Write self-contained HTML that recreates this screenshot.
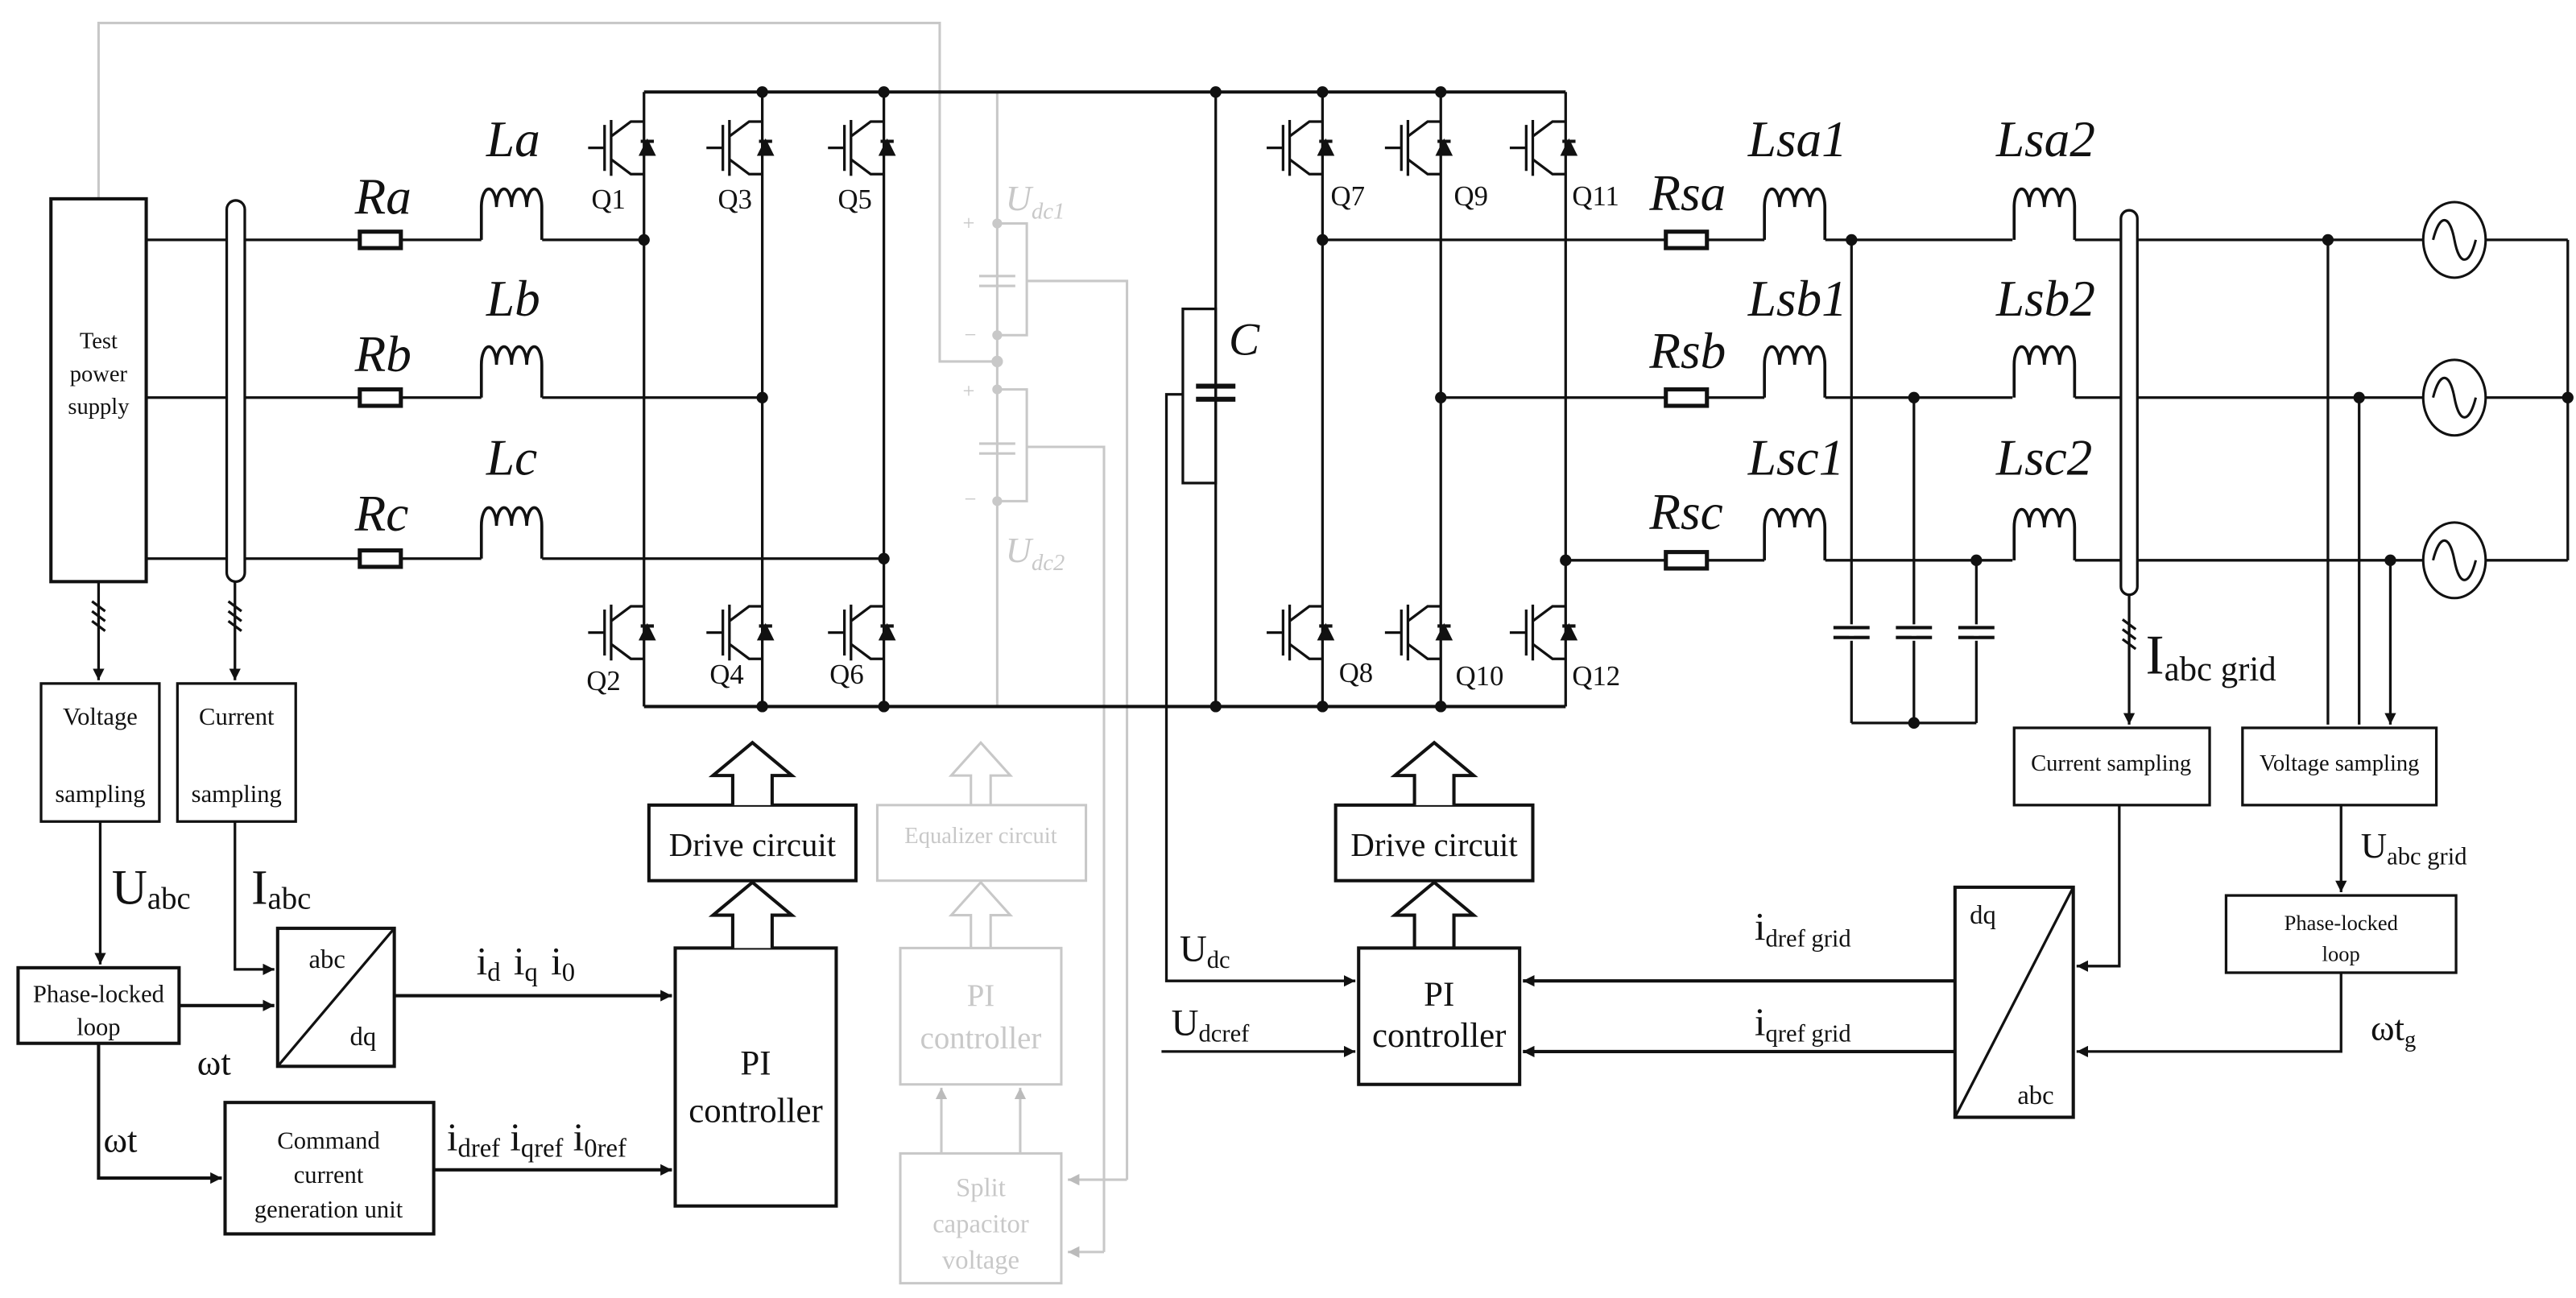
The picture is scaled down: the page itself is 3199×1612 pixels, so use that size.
<!DOCTYPE html>
<html><head><meta charset="utf-8"><style>
html,body{margin:0;padding:0;background:#fff}
svg{display:block}
svg text, svg tspan{font-family:"Liberation Serif","DejaVu Serif",serif !important}
text{fill:#111}
.it{font-style:italic}
.g text,text.g{fill:#c8c8c8}
</style></head><body>
<svg width="3199" height="1612" viewBox="0 0 1568 790" preserveAspectRatio="none" xmlns="http://www.w3.org/2000/svg" font-family="'Liberation Serif', 'DejaVu Serif', serif">
<defs>
<marker id="ar" viewBox="0 0 10 10" refX="10" refY="5" markerWidth="7" markerHeight="7" markerUnits="userSpaceOnUse" orient="auto"><path d="M0,0 L10,5 L0,10 Z" fill="#111"/></marker>
<marker id="arg" viewBox="0 0 10 10" refX="10" refY="5" markerWidth="7" markerHeight="7" markerUnits="userSpaceOnUse" orient="auto"><path d="M0,0 L10,5 L0,10 Z" fill="#bbb"/></marker>
<g id="igbt" fill="none" stroke="#111" stroke-width="1.6">
<path d="M-34,0 H-24 M-24,-14 V14 M-20,-17 V17 M-20,-7 L-8,-16 H0 M-20,7 L-8,16 H0"/>
<path d="M-2,-4 H6" stroke-width="2"/>
<path d="M2,-4 L-2,4 H6 Z" fill="#111"/>
</g>
<g id="ind" fill="none" stroke="#111" stroke-width="1.8">
<path d="M0,0 V-20 a4.6,11 0 1 1 9.2,0 a4.6,11 0 1 1 9.2,0 a4.6,11 0 1 1 9.2,0 a4.6,11 0 1 1 9.2,0 V0"/>
</g>
<g id="res"><rect x="0" y="-5" width="25" height="10" fill="#fff" stroke="#111" stroke-width="2.5"/></g>
<g id="src"><ellipse cx="0" cy="0" rx="19" ry="23" fill="#fff" stroke="#111" stroke-width="1.5"/><path d="M-13,0 C-9,-16 -3,-16 0,0 S9,16 13,0" fill="none" stroke="#111" stroke-width="1.5"/></g>
</defs>

<!-- gray split-capacitor stuff -->
<g stroke="#c8c8c8" stroke-width="1.5" fill="none">
<path d="M60,121 V14 H572 V220 H608"/>
<path d="M607,56 V430"/>
<path d="M607,136 H625 V204 H607 M607,237 H625 V305 H607"/>
<path d="M596,168 H618 M596,174 H618 M596,270 H618 M596,276 H618"/>
<path d="M625,171 H686 V718" />
<path d="M625,272 H672 V762"/>
<path d="M686,718 H650" marker-end="url(#arg)"/>
<path d="M672,762 H650" marker-end="url(#arg)"/>
<rect x="534" y="490" width="127" height="46"/>
<rect x="548" y="577" width="98" height="83"/>
<rect x="548" y="702" width="98" height="79"/>
<path d="M573,702 V662" marker-end="url(#arg)"/>
<path d="M621,702 V662" marker-end="url(#arg)"/>
<path d="M591,490 V472 H579 L597,452 L615,472 H603 V490"/>
<path d="M591,577 V557 H579 L597,537 L615,557 H603 V577"/>
</g>
<g fill="#c8c8c8"><circle cx="607" cy="136" r="3"/><circle cx="607" cy="204" r="3"/><circle cx="607" cy="220" r="3.5"/><circle cx="607" cy="237" r="3"/><circle cx="607" cy="305" r="3"/></g>
<g class="g">
<text x="612" y="128" font-size="22" class="it">U<tspan font-size="14" dy="5">dc1</tspan></text>
<text x="612" y="342" font-size="22" class="it">U<tspan font-size="14" dy="5">dc2</tspan></text>
<text x="586" y="140" font-size="13">+</text><text x="587" y="208" font-size="13">−</text>
<text x="586" y="242" font-size="13">+</text><text x="587" y="308" font-size="13">−</text>
<text x="597" y="513" font-size="14" text-anchor="middle">Equalizer circuit</text>
<text x="597" y="612" font-size="19" text-anchor="middle">PI</text>
<text x="597" y="638" font-size="19" text-anchor="middle">controller</text>
<text x="597" y="728" font-size="16" text-anchor="middle">Split</text>
<text x="597" y="750" font-size="16" text-anchor="middle">capacitor</text>
<text x="597" y="772" font-size="16" text-anchor="middle">voltage</text>
</g>

<!-- power circuit -->
<g stroke="#111" stroke-width="1.6" fill="none">
<rect x="31" y="121" width="58" height="233" stroke-width="2"/>
<rect x="138" y="122" width="11" height="232" rx="5.5" fill="#fff"/>
<path d="M89,146 H138 M149,146 H293 M330,146 H392"/>
<path d="M89,242 H138 M149,242 H293 M330,242 H464"/>
<path d="M89,340 H138 M149,340 H293 M330,340 H538"/>
<path d="M392,56 H953 M392,430 H953" stroke-width="2"/>
<path d="M392,56 V430 M464,56 V430 M538,56 V430"/>
<path d="M740,56 V430"/>
<rect x="720" y="188" width="20" height="106"/>
<path d="M728,235 H752 M728,243 H752" stroke-width="3"/>
<path d="M720,240 H710 V597 H825" marker-end="url(#ar)"/>
<path d="M707,640 H825" marker-end="url(#ar)"/>
<path d="M805,56 V430 M877,56 V430 M953,56 V430"/>
<path d="M805,146 H1014 M1039,146 H1074 M1111,146 H1225 M1263,146 H1475 M1513,146 H1563"/>
<path d="M877,242 H1014 M1039,242 H1074 M1111,242 H1225 M1263,242 H1475 M1513,242 H1563"/>
<path d="M953,341 H1014 M1039,341 H1074 M1111,341 H1225 M1263,341 H1475 M1513,341 H1563"/>
<path d="M1563,146 V341"/>
<path d="M1127,146 V440 M1165,242 V440 M1203,341 V440 M1127,440 H1203"/>
<path d="M1116,382 H1138 M1116,388 H1138 M1154,382 H1176 M1154,388 H1176 M1192,382 H1214 M1192,388 H1214" stroke="#fff" stroke-width="4"/>
<path d="M1116,382 H1138 M1116,388 H1138 M1154,382 H1176 M1154,388 H1176 M1192,382 H1214 M1192,388 H1214" stroke-width="2"/>
<rect x="1291" y="128" width="10" height="234" rx="5" fill="#fff"/>
</g>
<g stroke="#fff" stroke-width="3"><path d="M1127,383 V387 M1165,383 V387 M1203,383 V387"/></g>

<use href="#igbt" x="392" y="90"/><use href="#igbt" x="464" y="90"/><use href="#igbt" x="538" y="90"/>
<use href="#igbt" x="392" y="385"/><use href="#igbt" x="464" y="385"/><use href="#igbt" x="538" y="385"/>
<use href="#igbt" x="805" y="90"/><use href="#igbt" x="877" y="90"/><use href="#igbt" x="953" y="90"/>
<use href="#igbt" x="805" y="385"/><use href="#igbt" x="877" y="385"/><use href="#igbt" x="953" y="385"/>
<use href="#res" x="219" y="146"/><use href="#res" x="219" y="242"/><use href="#res" x="219" y="340"/>
<use href="#ind" x="293" y="146"/><use href="#ind" x="293" y="242"/><use href="#ind" x="293" y="340"/>
<use href="#res" x="1014" y="146"/><use href="#res" x="1014" y="242"/><use href="#res" x="1014" y="341"/>
<use href="#ind" x="1074" y="146"/><use href="#ind" x="1074" y="242"/><use href="#ind" x="1074" y="341"/>
<use href="#ind" x="1226" y="146"/><use href="#ind" x="1226" y="242"/><use href="#ind" x="1226" y="341"/>
<use href="#src" x="1494" y="146"/><use href="#src" x="1494" y="242"/><use href="#src" x="1494" y="341"/>
<g fill="#111">
<circle cx="392" cy="146" r="3.5"/><circle cx="464" cy="242" r="3.5"/><circle cx="538" cy="340" r="3.5"/>
<circle cx="464" cy="56" r="3.5"/><circle cx="538" cy="56" r="3.5"/><circle cx="740" cy="56" r="3.5"/><circle cx="805" cy="56" r="3.5"/><circle cx="877" cy="56" r="3.5"/>
<circle cx="464" cy="430" r="3.5"/><circle cx="538" cy="430" r="3.5"/><circle cx="740" cy="430" r="3.5"/><circle cx="805" cy="430" r="3.5"/><circle cx="877" cy="430" r="3.5"/>
<circle cx="805" cy="146" r="3.5"/><circle cx="877" cy="242" r="3.5"/><circle cx="953" cy="341" r="3.5"/>
<circle cx="1127" cy="146" r="3.5"/><circle cx="1165" cy="242" r="3.5"/><circle cx="1203" cy="341" r="3.5"/><circle cx="1165" cy="440" r="3.5"/>
<circle cx="1417" cy="146" r="3.5"/><circle cx="1436" cy="242" r="3.5"/><circle cx="1455" cy="341" r="3.5"/><circle cx="1563" cy="242" r="3.5"/>
</g>

<g class="it" font-size="31">
<text x="216" y="130">Ra</text><text x="216" y="226">Rb</text><text x="216" y="323">Rc</text>
<text x="296" y="95">La</text><text x="296" y="192">Lb</text><text x="296" y="289">Lc</text>
<text x="1004" y="128">Rsa</text><text x="1004" y="224">Rsb</text><text x="1004" y="322">Rsc</text>
<text x="1064" y="95">Lsa1</text><text x="1064" y="192">Lsb1</text><text x="1064" y="289">Lsc1</text>
<text x="1215" y="95">Lsa2</text><text x="1215" y="192">Lsb2</text><text x="1215" y="289">Lsc2</text>
<text x="748" y="216" font-size="28">C</text>
</g>
<g font-size="17">
<text x="360" y="127">Q1</text><text x="437" y="127">Q3</text><text x="510" y="127">Q5</text>
<text x="357" y="420">Q2</text><text x="432" y="416">Q4</text><text x="505" y="416">Q6</text>
<text x="810" y="125">Q7</text><text x="885" y="125">Q9</text><text x="957" y="125">Q11</text>
<text x="815" y="415">Q8</text><text x="886" y="417">Q10</text><text x="957" y="417">Q12</text>
</g>
<text x="60" y="212" font-size="14" text-anchor="middle">Test</text>
<text x="60" y="232" font-size="14" text-anchor="middle">power</text>
<text x="60" y="252" font-size="14" text-anchor="middle">supply</text>

<g stroke="#111" stroke-width="1.6" fill="none">
<path d="M60,354 V414" marker-end="url(#ar)"/>
<path d="M143,354 V414" marker-end="url(#ar)"/>
<path d="M56,366 L64,372 M56,372 L64,378 M56,378 L64,384 M139,366 L147,372 M139,372 L147,378 M139,378 L147,384"/>
<rect x="25" y="416" width="72" height="84"/>
<rect x="108" y="416" width="72" height="84"/>
<path d="M61,500 V587" marker-end="url(#ar)"/>
<path d="M143,500 V590 H167" marker-end="url(#ar)"/>
<rect x="11" y="589" width="98" height="46" stroke-width="2"/>
<path d="M109,612 H167" marker-end="url(#ar)" stroke-width="2"/>
<rect x="169" y="565" width="71" height="84" stroke-width="2"/>
<path d="M169,649 L240,565"/>
<path d="M240,606 H409" marker-end="url(#ar)" stroke-width="2"/>
<path d="M60,635 V717 H135" marker-end="url(#ar)" stroke-width="2"/>
<rect x="137" y="671" width="127" height="80" stroke-width="2"/>
<path d="M264,712 H409" marker-end="url(#ar)" stroke-width="2"/>
<rect x="411" y="577" width="98" height="157" stroke-width="2"/>
<rect x="395" y="490" width="126" height="46" stroke-width="2"/>
<path d="M446,577 V557 H434 L458,537 L482,557 H470 V577" fill="#fff" stroke-width="2"/>
<path d="M446,490 V472 H434 L458,452 L482,472 H470 V490" fill="#fff" stroke-width="2"/>
</g>
<g font-size="15" text-anchor="middle">
<text x="61" y="441">Voltage</text><text x="61" y="488">sampling</text>
<text x="144" y="441">Current</text><text x="144" y="488">sampling</text>
<text x="60" y="610">Phase-locked</text><text x="60" y="630">loop</text>
<text x="200" y="699">Command</text><text x="200" y="720">current</text><text x="200" y="741">generation unit</text>
</g>
<text x="188" y="589" font-size="16">abc</text><text x="213" y="636" font-size="16">dq</text>
<text x="458" y="521" font-size="20" text-anchor="middle">Drive circuit</text>
<text x="460" y="654" font-size="21" text-anchor="middle">PI</text>
<text x="460" y="683" font-size="21" text-anchor="middle">controller</text>
<text x="68" y="550" font-size="30">U<tspan font-size="19" dy="3">abc</tspan></text>
<text x="153" y="550" font-size="30">I<tspan font-size="19" dy="3">abc</tspan></text>
<text x="120" y="654" font-size="22">ωt</text>
<text x="63" y="701" font-size="22">ωt</text>
<text x="290" y="593" font-size="24">i<tspan font-size="16" dy="4">d</tspan><tspan dy="-4" dx="8">i</tspan><tspan font-size="16" dy="4">q</tspan><tspan dy="-4" dx="8">i</tspan><tspan font-size="16" dy="4">0</tspan></text>
<text x="272" y="700" font-size="24">i<tspan font-size="16" dy="4">dref</tspan><tspan dy="-4" dx="6">i</tspan><tspan font-size="16" dy="4">qref</tspan><tspan dy="-4" dx="6">i</tspan><tspan font-size="16" dy="4">0ref</tspan></text>

<g stroke="#111" stroke-width="1.6" fill="none">
<rect x="813" y="490" width="120" height="46" stroke-width="2"/>
<path d="M861,577 V557 H849 L873,537 L897,557 H885 V577" fill="#fff" stroke-width="2"/>
<path d="M861,490 V472 H849 L873,452 L897,472 H885 V490" fill="#fff" stroke-width="2"/>
<rect x="827" y="577" width="98" height="83" stroke-width="2"/>
<rect x="1190" y="540" width="72" height="140" stroke-width="2"/>
<path d="M1190,680 L1262,540"/>
<path d="M1190,597 H927" marker-end="url(#ar)" stroke-width="2"/>
<path d="M1190,640 H927" marker-end="url(#ar)" stroke-width="2"/>
<path d="M1296,362 V441" marker-end="url(#ar)"/>
<path d="M1292,377 L1300,383 M1292,383 L1300,389 M1292,389 L1300,395"/>
<path d="M1417,146 V441 M1436,242 V441 M1455,341 V441" marker-end="url(#ar)"/>
<rect x="1226" y="443" width="119" height="47"/>
<rect x="1365" y="443" width="118" height="47"/>
<path d="M1290,490 V588 H1264" marker-end="url(#ar)"/>
<path d="M1425,490 V543" marker-end="url(#ar)"/>
<rect x="1355" y="545" width="140" height="47"/>
<path d="M1425,592 V640 H1264" marker-end="url(#ar)"/>
</g>
<text x="873" y="521" font-size="20" text-anchor="middle">Drive circuit</text>
<text x="876" y="612" font-size="21" text-anchor="middle">PI</text>
<text x="876" y="637" font-size="21" text-anchor="middle">controller</text>
<text x="1199" y="562" font-size="16">dq</text><text x="1228" y="672" font-size="16">abc</text>
<text x="1285" y="469" font-size="14" text-anchor="middle">Current sampling</text>
<text x="1424" y="469" font-size="14" text-anchor="middle">Voltage sampling</text>
<text x="1425" y="566" font-size="13" text-anchor="middle">Phase-locked</text>
<text x="1425" y="585" font-size="13" text-anchor="middle">loop</text>
<text x="1306" y="410" font-size="34">I<tspan font-size="21" dy="4">abc grid</tspan></text>
<text x="1437" y="522" font-size="22">U<tspan font-size="15" dy="4">abc grid</tspan></text>
<text x="1443" y="633" font-size="22">ωt<tspan font-size="14" dy="4">g</tspan></text>
<text x="1068" y="572" font-size="24">i<tspan font-size="15" dy="4">dref grid</tspan></text>
<text x="1068" y="630" font-size="24">i<tspan font-size="15" dy="4">qref grid</tspan></text>
<text x="718" y="585" font-size="23">U<tspan font-size="15" dy="4">dc</tspan></text>
<text x="713" y="630" font-size="23">U<tspan font-size="15" dy="4">dcref</tspan></text>
</svg>
</body></html>
